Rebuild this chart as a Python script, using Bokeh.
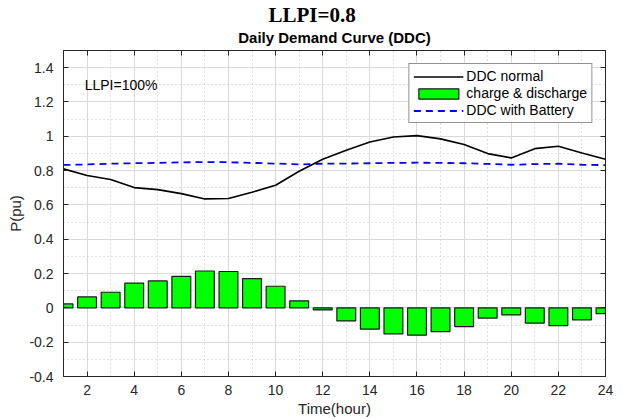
from bokeh.plotting import figure
from bokeh.models import (Range1d, FixedTicker, LinearAxis, Legend, LegendItem, Label,
                          Title, CustomJSTickFormatter, ColumnDataSource)
from bokeh.embed import file_html
from bokeh.resources import INLINE

hours = list(range(1, 25))
ddc_normal = [0.810, 0.771, 0.748, 0.701, 0.689, 0.666, 0.635, 0.637, 0.674, 0.715, 0.796, 0.866,
              0.919, 0.967, 0.996, 1.004, 0.985, 0.952, 0.899, 0.874, 0.928, 0.942, 0.903, 0.866]
ddc_battery = [0.833, 0.836, 0.840, 0.843, 0.845, 0.848, 0.850, 0.849, 0.845, 0.841, 0.836, 0.840,
               0.841, 0.843, 0.845, 0.846, 0.845, 0.843, 0.839, 0.834, 0.838, 0.840, 0.834, 0.832]
charge_discharge = [0.023, 0.064, 0.091, 0.144, 0.157, 0.184, 0.215, 0.212, 0.171, 0.126, 0.041, -0.012,
                    -0.076, -0.124, -0.152, -0.159, -0.138, -0.109, -0.060, -0.041, -0.089, -0.103, -0.070, -0.033]
x_ticks = [2, 4, 6, 8, 10, 12, 14, 16, 18, 20, 22, 24]
x_minor = [1, 3, 5, 7, 9, 11, 13, 15, 17, 19, 21, 23]
y_ticks = [-0.4, -0.2, 0, 0.2, 0.4, 0.6, 0.8, 1.0, 1.2, 1.4]
y_minor = [-0.3, -0.1, 0.1, 0.3, 0.5, 0.7, 0.9, 1.1, 1.3, 1.5]

src = ColumnDataSource(dict(h=hours, normal=ddc_normal, batt=ddc_battery, cd=charge_discharge))

FONT = "Liberation Sans"
AX = "#262626"

p = figure(width=622, height=419, output_backend="svg", toolbar_location=None,
           x_range=Range1d(1, 24), y_range=Range1d(-0.4, 1.5), title=None,
           min_border_left=63, min_border_right=17, min_border_top=50, min_border_bottom=42,
           x_axis_label="Time(hour)", y_axis_label="P(pu)")
p.background_fill_color = "white"
p.border_fill_color = "white"
p.outline_line_color = AX
p.outline_line_width = 1

xt = FixedTicker(ticks=x_ticks, minor_ticks=x_minor)
yt = FixedTicker(ticks=y_ticks, minor_ticks=y_minor)
fmt = CustomJSTickFormatter(code="return String(Number(tick.toFixed(1)));")

for ax in p.xaxis:
    ax.ticker = xt
for ax in p.yaxis:
    ax.ticker = yt
    ax.formatter = fmt

for ax in list(p.xaxis) + list(p.yaxis):
    ax.major_tick_in = 5
    ax.major_tick_out = 0
    ax.minor_tick_line_color = None
    ax.axis_line_color = AX
    ax.major_tick_line_color = AX
    ax.major_label_text_font = FONT
    ax.major_label_text_font_size = "14px"
    ax.major_label_text_color = AX
    ax.axis_label_text_font = FONT
    ax.axis_label_text_font_size = "15px"
    ax.axis_label_text_font_style = "normal"
    ax.axis_label_text_color = AX
p.xaxis.major_label_standoff = 4
p.xaxis.axis_label_standoff = 2
p.yaxis.major_label_standoff = 6
p.yaxis.axis_label_standoff = 2

top_ax = LinearAxis(ticker=xt, major_tick_in=5, major_tick_out=0, minor_tick_line_color=None,
                    major_label_text_font_size="0px", major_label_text_color=None,
                    axis_line_color=AX, major_tick_line_color=AX, major_label_standoff=0)
right_ax = LinearAxis(ticker=yt, major_tick_in=5, major_tick_out=0, minor_tick_line_color=None,
                      major_label_text_font_size="0px", major_label_text_color=None,
                      axis_line_color=AX, major_tick_line_color=AX, major_label_standoff=0)
p.add_layout(top_ax, "above")
p.add_layout(right_ax, "right")

p.xgrid.grid_line_color = "#d9d9d9"
p.ygrid.grid_line_color = "#d9d9d9"
p.xgrid.minor_grid_line_color = "#c4c4c4"
p.ygrid.minor_grid_line_color = "#c4c4c4"
p.xgrid.minor_grid_line_dash = "1 3"
p.ygrid.minor_grid_line_dash = "1 3"

bars = p.vbar(x="h", top="cd", bottom=0, width=0.8, source=src,
              fill_color="#00ff00", line_color="#1a1a1a", line_width=1.2)
l_norm = p.line(x="h", y="normal", source=src, line_color="black", line_width=1.6)
l_batt = p.line(x="h", y="batt", source=src, line_color="#0000ff", line_width=1.8, line_dash="7 5")

legend = Legend(items=[LegendItem(label="DDC normal", renderers=[l_norm]),
                       LegendItem(label="charge & discharge", renderers=[bars]),
                       LegendItem(label="DDC with Battery", renderers=[l_batt])],
                location="top_right")
legend.margin = 13
legend.padding = 4
legend.spacing = 1
legend.glyph_width = 50
legend.glyph_height = 13
legend.label_height = 15
legend.label_standoff = 3
legend.label_text_font = FONT
legend.label_text_font_size = "14px"
legend.label_text_color = "black"
legend.border_line_color = AX
legend.border_line_width = 1
legend.background_fill_color = "white"
legend.background_fill_alpha = 1
p.add_layout(legend)

p.add_layout(Label(x=1.9, y=1.3, text="LLPI=100%", text_font=FONT, text_font_size="14px",
                   text_color="black", text_baseline="middle"))

sub = Title(text="Daily Demand Curve (DDC)", align="center", text_font=FONT,
            text_font_size="15px", text_font_style="bold", text_color="black", standoff=1)
main = Title(text="LLPI=0.8", align="left", text_font="Liberation Serif",
             text_font_size="21px", text_font_style="bold", text_color="black", offset=205, standoff=0)
p.add_layout(sub, "above")
p.add_layout(main, "above")

open("out.html", "w").write(file_html(p, INLINE))
